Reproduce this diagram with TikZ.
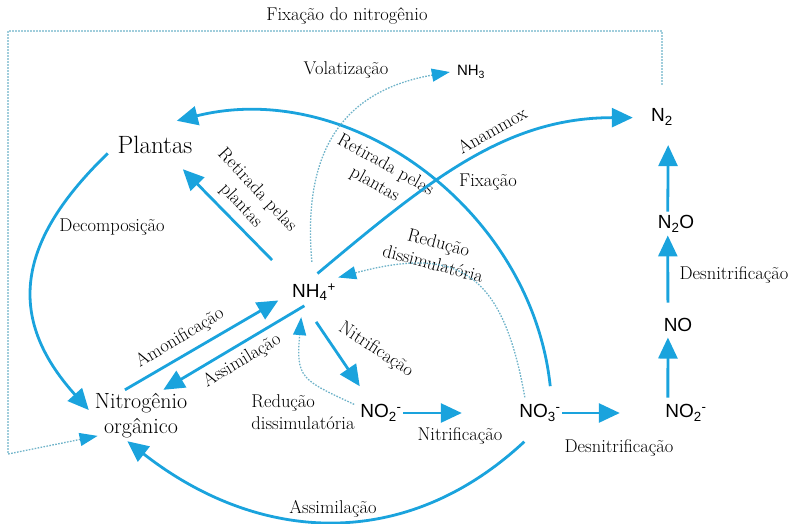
\documentclass[tikz,border=0pt]{standalone}
\usepackage{fontspec}
\usepackage{tikz}
\usetikzlibrary{arrows.meta}
\newfontfamily\chemfont{Liberation Sans}
\definecolor{flowblue}{HTML}{1AA3DD}
\definecolor{dotblue}{HTML}{6FB3C9}

\begin{document}
\begin{tikzpicture}[
     x=1pt, y=1pt,
     mylabel/.style={font=\fontsize{18.5}{22}\selectfont, inner sep=0pt},
     mychem/.style={circle, inner sep=0pt, minimum size=#1, font=\chemfont\fontsize{19}{21}\selectfont},
     myflow/.style={draw=flowblue, line width=2.8pt, -{Triangle[length=21pt,width=19pt]}},
     mydotted/.style={draw=dotblue, line width=1.3pt, dash pattern=on 1.6pt off 1.4pt, -{Triangle[length=18pt,width=13pt,color=flowblue]}}
 ]
 \useasboundingbox (0,0) rectangle (791,-523);

 % pools
 \node[inner sep=0pt, minimum width=94pt, minimum height=48pt, font=\fontsize{25}{29}\selectfont] (plantas) at (155,-145) {Plantas};
 \node[inner sep=0pt, minimum width=104pt, minimum height=51pt, align=center, font=\fontsize{22}{25}\selectfont] (norg) at (141,-415.5) {Nitrogênio\\orgânico};
 \node[mychem=56pt] (nh4) at (314,-292) {NH\textsubscript{4}\textsuperscript{+}};
 \node[inner sep=0pt, minimum width=42pt, font=\chemfont\fontsize{15}{17}\selectfont] (nh3) at (471,-72) {NH\textsubscript{3}};
 \node[mychem=50pt] (no2a) at (381,-413) {NO\textsubscript{2}\textsuperscript{-}};
 \node[mychem=50pt] (no3) at (540,-413) {NO\textsubscript{3}\textsuperscript{-}};
 \node[mychem=50pt] (no2b) at (686,-413) {NO\textsubscript{2}\textsuperscript{-}};
 \node[mychem=40pt] (no) at (678,-325) {NO};
 \node[mychem=40pt] (n2o) at (676,-224) {N\textsubscript{2}O};
 \node[mychem=36pt] (n2) at (662,-117) {N\textsubscript{2}};

 % plain labels
 \foreach \x/\y/\txt [count=\i] in {347/16/Fixação do nitrogênio, 112/227/Decomposição, 346/70/Volatização, 488/182/Fixação, 460/436/Nitrificação, 619/448/Desnitrificação, 734/275/Desnitrificação, 333/509/Assimilação}
     \node[mylabel] (label\i) at (\x,-\y) {\txt};

 % labels along the arrows
 \node[mylabel, rotate=-47, align=center] (retleft) at (249,-198) {Retirada pelas\\plantas};
 \node[mylabel, rotate=-29, align=center] (retright) at (380,-175) {Retirada pelas\\plantas};
 \node[mylabel, rotate=30] (anammox) at (492,-130) {Anammox};
 \node[mylabel, rotate=-15, align=center] (redup) at (436,-253) {Redução\\dissimulatória};
 \node[mylabel, align=left] (redlow) at (303,-412) {Redução\\dissimulatória};
 \node[mylabel, rotate=31] (amon) at (180,-338) {Amonificação};
 \node[mylabel, rotate=31] (assimmid) at (242,-361) {Assimilação};
 \node[mylabel, rotate=-33] (nitrif) at (376,-350) {Nitrificação};

 % left loop
 \draw[myflow] (plantas.190) to[out=224, in=132, looseness=1.25] (norg.174);
 \draw[myflow, shorten >=9pt] (norg.122) -- (nh4.188);
 \draw[myflow, shorten <=-12pt] (nh4.225) -- (norg.49);
 \draw[myflow, shorten <=25pt] (nh4.150) -- (plantas.-41);
 \draw[myflow, shorten <=4pt] (no3.65) to[out=96, in=14] (plantas.48);
 \draw[myflow, shorten <=8pt] (no3.247) to[out=223, in=322, looseness=1.07] (norg.242);

 % nitrification and denitrification
 \draw[myflow, shorten <=2pt, shorten >=9pt] (nh4.-88) -- (no2a.130);
 \draw[myflow, shorten <=-3pt, shorten >=53pt] (no2a.0) -- (no3.180);
 \draw[myflow, shorten <=-3pt, shorten >=41pt] (no3.0) -- (no2b.180);
 \draw[myflow, shorten <=-2pt, shorten >=-5pt] (no2b.136) -- (no.240);
 \draw[myflow, shorten <=5pt, shorten >=-7pt] (no.120) -- (n2o.246);
 \draw[myflow, shorten <=-6pt, shorten >=11pt] (n2o.114) -- (n2.-70);
 \draw[myflow, shorten <=-11pt, shorten >=11pt] (nh4.65) to[out=40, in=180] (n2.182);

 % dotted paths
 \draw[mydotted, shorten <=2pt] (nh4.94) to[out=95, in=190, looseness=1.2] (nh3.west);
 \draw[mydotted, shorten <=-4pt] (no3.129) to[out=100, in=15, looseness=1.45] (nh4.31);
 \draw[mydotted, shorten <=3pt] (no2a.163) to[out=155, in=265, looseness=1.5] (nh4.243);
 \coordinate (fixtl) at (8,-31);
 \coordinate (fixbl) at (8,-454);
 \draw[mydotted, shorten <=14pt, shorten >=-9pt] (n2.north) |- (fixtl) -- (fixbl) -- (norg.203);
\end{tikzpicture}
\end{document}
